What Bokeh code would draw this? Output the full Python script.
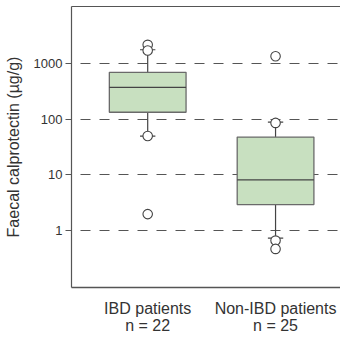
from bokeh.plotting import figure
from bokeh.models import FixedTicker, LinearAxis, Range1d
from bokeh.embed import file_html
from bokeh.resources import INLINE

# ---- data ----
categories = ["IBD patients\nn = 22", "Non-IBD patients\nn = 25"]
q1 = [134, 2.9]
median = [377, 8.1]
q3 = [703, 47.7]
lower_whisker = [49.5, 0.72]
upper_whisker = [1795, 89]
outlier_group = [0, 0, 0, 0, 1, 1, 1, 1]
outlier_value = [2200, 1740, 50, 1.95, 1370, 86, 0.65, 0.46]
y_ticks = [1, 10, 100, 1000]
y_tick_labels = ["1", "10", "100", "1000"]

FONT = "Liberation Sans"
xs = [i + 1 for i in range(len(categories))]
box_w = 0.6
cap_w = 0.12

p = figure(width=340, height=336, output_backend="svg", toolbar_location=None,
           y_axis_type="log",
           x_range=Range1d(0.404, 2.508), y_range=Range1d(0.0927, 10800),
           min_border_left=71, min_border_right=0, min_border_top=6,
           min_border_bottom=44)
p.outline_line_color = None
p.background_fill_color = "white"
p.border_fill_color = "white"

# y axis
yax = p.left[0]
yax.ticker = FixedTicker(ticks=y_ticks)
yax.major_label_overrides = {t: l for t, l in zip(y_ticks, y_tick_labels)}
yax.axis_label = "Faecal calprotectin (µg/g)"
yax.axis_label_text_font = FONT
yax.axis_label_text_font_style = "normal"
yax.axis_label_text_font_size = "16px"
yax.axis_label_text_color = "#333333"
yax.axis_label_standoff = 9
yax.major_label_text_font = FONT
yax.major_label_text_font_size = "13px"
yax.major_label_text_color = "#333333"
yax.major_tick_in = 0
yax.major_tick_out = 6
yax.major_tick_line_color = "#555555"
yax.minor_tick_line_color = None
yax.axis_line_color = "#555555"
yax.axis_line_width = 1.2
yax.major_label_standoff = 3

# x axis
xax = p.below[0]
xax.ticker = FixedTicker(ticks=xs)
xax.major_label_overrides = {x: c for x, c in zip(xs, categories)}
xax.major_label_text_font = FONT
xax.major_label_text_font_size = "16px"
xax.major_label_text_line_height = 1.0
xax.major_label_text_color = "#333333"
xax.major_tick_line_color = None
xax.major_tick_out = 0
xax.major_tick_in = 0
xax.minor_tick_line_color = None
xax.axis_line_color = "#555555"
xax.axis_line_width = 1.5
xax.major_label_standoff = 12

# top frame line via an empty axis
top = LinearAxis(ticker=FixedTicker(ticks=[]), major_label_text_font_size="0px",
                 axis_line_color="#555555", axis_line_width=1.2,
                 major_tick_line_color=None, minor_tick_line_color=None,
                 major_tick_out=0, major_label_standoff=0)
p.add_layout(top, "above")

# grid
p.xgrid.grid_line_color = None
p.ygrid.ticker = FixedTicker(ticks=y_ticks)
p.ygrid.grid_line_color = "#555555"
p.ygrid.grid_line_dash = "10 9"
p.ygrid.grid_line_dash_offset = 10
p.ygrid.grid_line_width = 1.2

# whiskers
p.segment(x0=xs, y0=q3, x1=xs, y1=upper_whisker, line_color="#444444", line_width=1.2)
p.segment(x0=xs, y0=q1, x1=xs, y1=lower_whisker, line_color="#444444", line_width=1.2)
p.segment(x0=[x - cap_w / 2 for x in xs], y0=upper_whisker,
          x1=[x + cap_w / 2 for x in xs], y1=upper_whisker, line_color="#444444", line_width=1.2)
p.segment(x0=[x - cap_w / 2 for x in xs], y0=lower_whisker,
          x1=[x + cap_w / 2 for x in xs], y1=lower_whisker, line_color="#444444", line_width=1.2)

# boxes
p.vbar(x=xs, width=box_w, bottom=q1, top=q3, fill_color="#c8e0c0",
       line_color="#6a6a6a", line_width=1.3)
p.segment(x0=[x - box_w / 2 for x in xs], y0=median,
          x1=[x + box_w / 2 for x in xs], y1=median, line_color="#444444", line_width=1.2)

# outliers
p.scatter(x=[xs[g] for g in outlier_group], y=outlier_value, size=9.5,
          fill_color="white", line_color="#444444", line_width=1.1)

open("out.html", "w").write(file_html(p, INLINE))
